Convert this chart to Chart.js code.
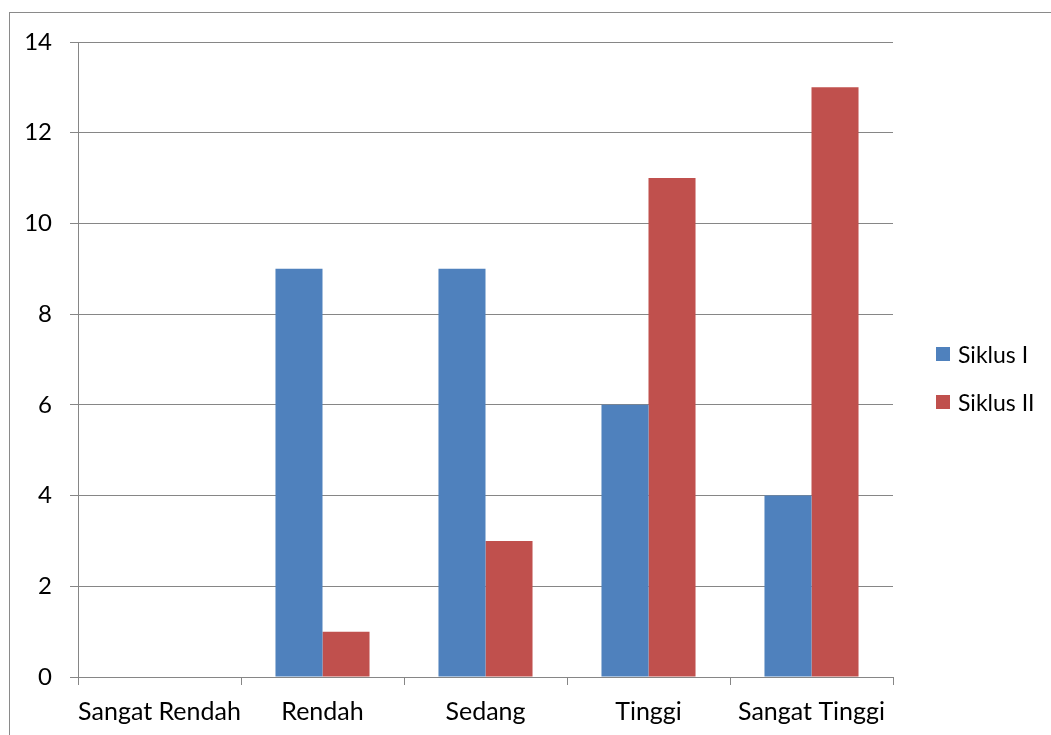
<!DOCTYPE html>
<html>
<head>
<meta charset="utf-8">
<script src="https://cdn.jsdelivr.net/npm/chart.js@4"></script>
<style>
  html, body { margin: 0; padding: 0; background: #fff; }
  #wrap { position: relative; width: 1051px; height: 735px; overflow: hidden; }
  #frame { position: absolute; left: 9px; top: 12px; width: 1100px; height: 800px; border: 1px solid #8a8a8a; box-sizing: border-box; }
  canvas { position: absolute; left: 0; top: 0; }
  #legend { position: absolute; left: 936px; top: 339px; font-family: Lato, "Open Sans", sans-serif; font-size: 23px; color: #000; }
  .item { display: flex; align-items: center; height: 30px; margin-bottom: 18px; }
  .sw { width: 14px; height: 14px; margin-right: 8px; }
</style>
</head>
<body>
<div id="wrap">
  <div id="frame"></div>
  <canvas id="c" width="1051" height="735"></canvas>
  <div id="legend"></div>
</div>
<script>
const categories = ["Sangat Rendah", "Rendah", "Sedang", "Tinggi", "Sangat Tinggi"];
const siklus1 = [0, 9, 9, 6, 4];
const siklus2 = [0, 1, 3, 11, 13];
const seriesNames = ["Siklus I", "Siklus II"];
const seriesColors = ["#4F81BD", "#C0504D"];
const yTicks = [0, 2, 4, 6, 8, 10, 12, 14];

const fontFamily = 'Lato, "Open Sans", sans-serif';
const gridColor = "#868686";

const chart = new Chart(document.getElementById("c"), {
  type: "bar",
  data: {
    labels: categories,
    datasets: [
      { label: seriesNames[0], data: siklus1, backgroundColor: seriesColors[0], barPercentage: 1, categoryPercentage: 0.577 },
      { label: seriesNames[1], data: siklus2, backgroundColor: seriesColors[1], barPercentage: 1, categoryPercentage: 0.577 }
    ]
  },
  options: {
    responsive: false,
    animation: false,
    layout: { padding: { left: 0, top: 42, right: 158, bottom: 0 } },
    plugins: { legend: { display: false }, tooltip: { enabled: false } },
    scales: {
      x: {
        grid: { offset: true, drawOnChartArea: false, drawTicks: true, tickLength: 8, color: gridColor },
        border: { color: gridColor, width: 1 },
        ticks: { color: "#000", font: { family: fontFamily, size: 25 }, padding: 12, maxRotation: 0, minRotation: 0, autoSkip: false },
        afterFit(scale) { scale.height = 58; }
      },
      y: {
        min: 0,
        max: yTicks[yTicks.length - 1],
        afterBuildTicks(scale) { scale.ticks = yTicks.map(v => ({ value: v })); },
        grid: { color: gridColor, tickLength: 8, drawTicks: true },
        border: { color: gridColor, width: 1 },
        ticks: { color: "#000", font: { family: fontFamily, size: 24 }, padding: 18 },
        afterFit(scale) { scale.width = 78; }
      }
    }
  }
});

// legend built from the dataset names and colours
const legend = document.getElementById("legend");
chart.data.datasets.forEach(ds => {
  const item = document.createElement("div");
  item.className = "item";
  const sw = document.createElement("div");
  sw.className = "sw";
  sw.style.background = ds.backgroundColor;
  const txt = document.createElement("span");
  txt.textContent = ds.label;
  item.appendChild(sw);
  item.appendChild(txt);
  legend.appendChild(item);
});
</script>
</body>
</html>
